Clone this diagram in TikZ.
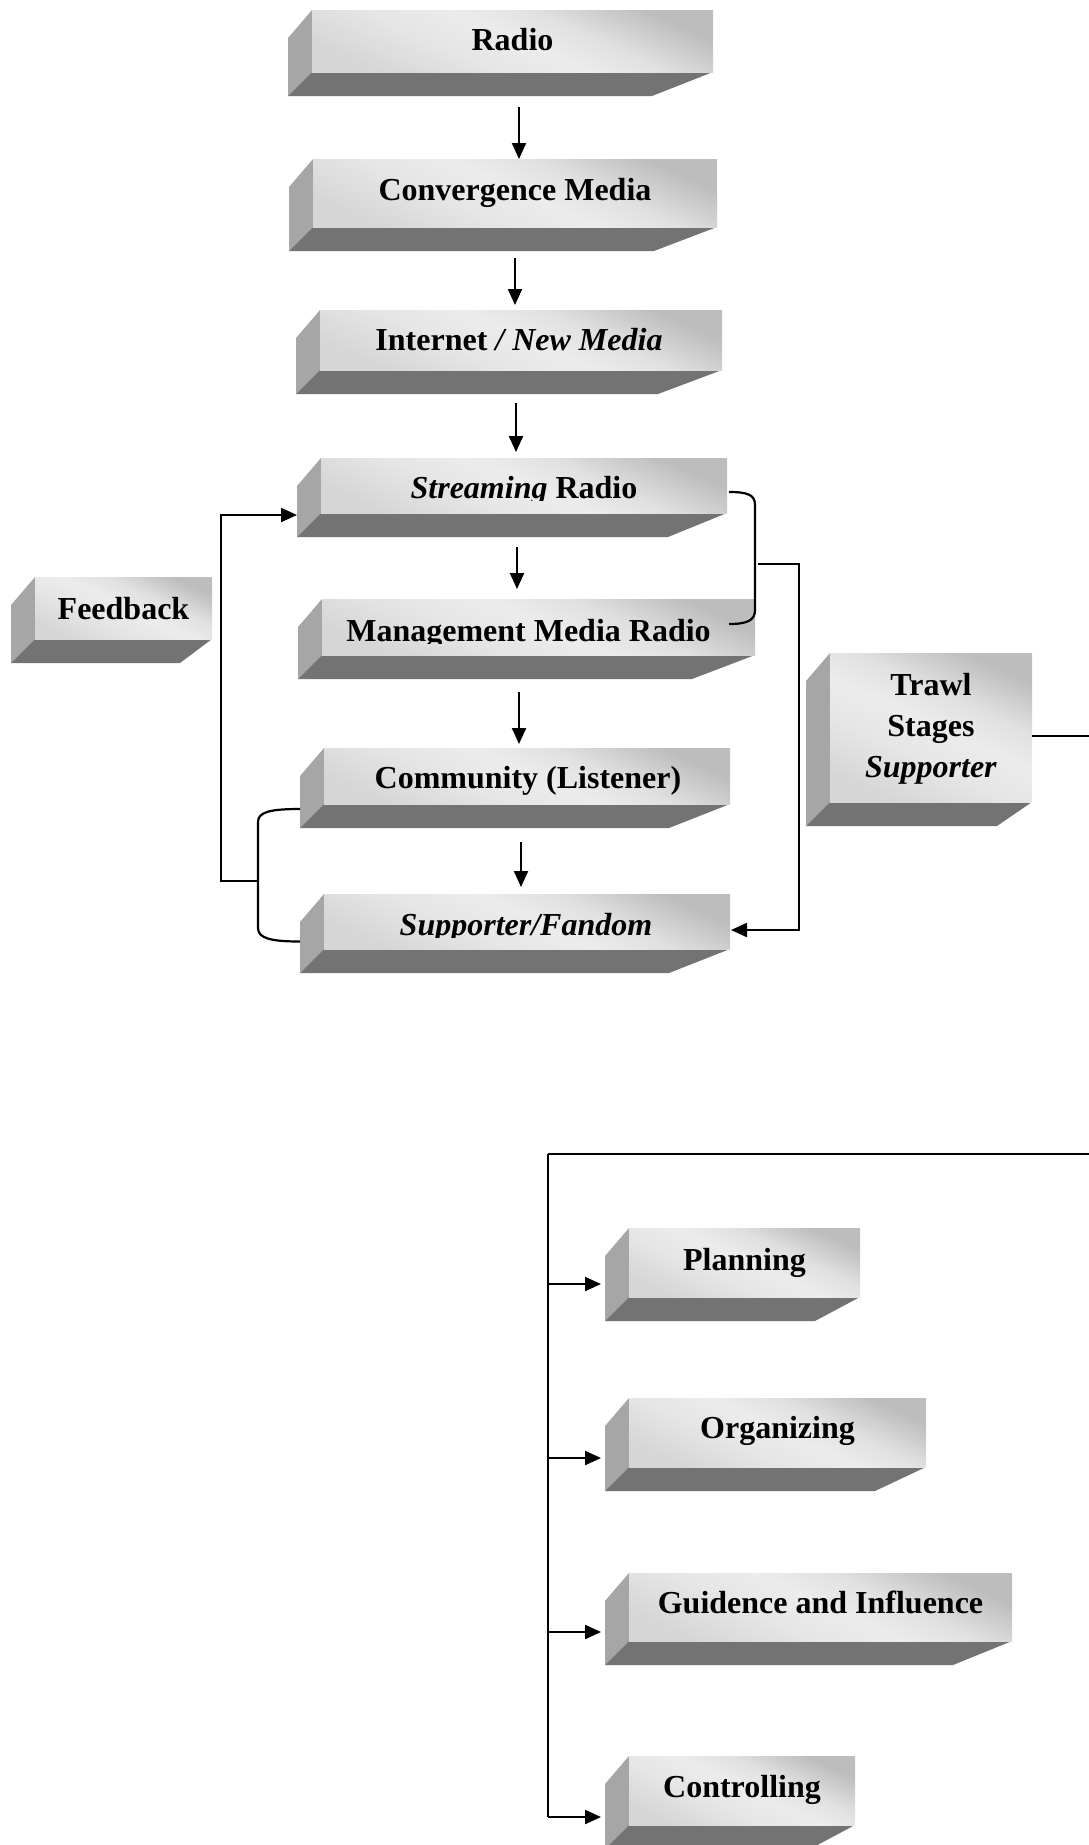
\documentclass[tikz,border=0pt]{standalone}
\usepackage{fontspec}
\setmainfont{Liberation Serif}
\usetikzlibrary{arrows.meta,calc}
\definecolor{sidec}{gray}{0.65}
\definecolor{botc}{gray}{0.45}
\definecolor{fA}{gray}{0.84}
\definecolor{fB}{gray}{0.90}
\definecolor{fC}{gray}{0.925}
\definecolor{fE}{gray}{0.88}
\definecolor{fD}{gray}{0.74}
\pgfdeclarehorizontalshading{facegrad}{100bp}{color(0bp)=(fA); color(25bp)=(fA); color(40bp)=(fB); color(51bp)=(fC); color(61bp)=(fE); color(75bp)=(fD); color(100bp)=(fD)}
\tikzset{
  face/.style={draw=none, inner sep=0pt, outer sep=0pt,
    shade, shading=facegrad, shading angle=65},
  lbl/.style={inner sep=0pt, font=\bfseries\fontsize{32}{37}\selectfont,
    text height=21.5pt, text depth=0pt},
  ln/.style={line width=2.2pt, black},
  arr/.style={ln, -{Triangle[length=16pt,width=14pt]}}
}
% #1 name, #2 front-left x, #3 top y, #4 front-right x, #5 face-bottom y, #6 right slope dx
\newcommand\bbox[6]{%
  \fill[sidec] (#2,#3) -- (#2,#5) -- ({#2-24},{#5+24}) -- ({#2-24},{#3+28}) -- cycle;
  \fill[botc] (#2,#5) -- (#4,#5) -- ({#4-#6},{#5+24}) -- ({#2-24},{#5+24}) -- cycle;
  \node[face, minimum width={#4-#2}, minimum height={#5-#3}] (#1) at ({(#2+#4)/2},{(#3+#5)/2}) {};
}
\begin{document}
\begin{tikzpicture}[x=1pt,y=-1pt]
\useasboundingbox (0,0) rectangle (1089,1845);

% boxes
\bbox{radio}{312}{10}{713}{72}{61}
\bbox{conv}{313}{159}{717}{227}{63}
\bbox{inet}{320}{310}{722}{370}{64}
\bbox{stream}{321}{458}{727}{513}{59}
\bbox{mgmt}{322}{599}{755}{655}{63}
\bbox{comm}{324}{748}{730}{804}{61}
\bbox{supp}{324}{894}{730}{949}{61}
\bbox{fb}{35}{577}{212}{639}{32}
\bbox{trawl}{830}{653}{1032}{802}{35}
\bbox{plan}{629}{1228}{860}{1297}{45}
\bbox{org}{629}{1398}{926}{1467}{51}
\bbox{guide}{629}{1573}{1012}{1641}{59}
\bbox{ctrl}{629}{1756}{855}{1825}{45}

% labels
\node[lbl] (radio-t) at ($(radio)+(0,-1)$) {Radio};
\node[lbl] (conv-t) at ($(conv)+(0,-3.5)$) {Convergence Media};
\node[lbl] (inet-t) at ($(inet)+(-2,0)$) {Internet \textit{/ New Media}};
\begin{scope}
  \clip ($(stream.north west)+(-5,0)$) rectangle ($(stream.east)+(5,15)$);
  \node[lbl] (stream-t) at ($(stream)+(0,2.5)$) {\textit{Streaming} Radio};
\end{scope}
\begin{scope}
  \clip ($(mgmt.north west)+(-5,0)$) rectangle ($(mgmt.east)+(5,16.5)$);
  \node[lbl] (mgmt-t) at ($(mgmt)+(-10,4)$) {Management Media Radio};
\end{scope}
\node[lbl] (comm-t) at ($(comm)+(1,2)$) {Community (Listener)};
\begin{scope}
  \clip ($(supp.north west)+(-5,0)$) rectangle ($(supp.east)+(5,15.5)$);
  \node[lbl] (supp-t) at ($(supp)+(-1,3)$) {\textit{Supporter/Fandom}};
\end{scope}
\node[lbl] (fb-t) at ($(fb)+(0,1)$) {Feedback};
\node[inner sep=0pt, align=center, font=\bfseries\fontsize{32}{41}\selectfont]
  (trawl-t) at ($(trawl)+(0,1)$) {Trawl\\Stages\\\textit{Supporter}};
\node[lbl] (plan-t) at ($(plan)+(0,-2.5)$) {Planning};
\node[lbl] (org-t) at ($(org)+(0,-4.5)$) {Organizing};
\node[lbl] (guide-t) at ($(guide)+(0,-4)$) {Guidence and Influence};
\node[lbl] (ctrl-t) at ($(ctrl)+(0,-3.5)$) {Controlling};

% main chain arrows
\draw[arr] ($(radio.south)+(6.5,35)$) -- ($(radio.south |- conv.north)+(6.5,0)$);
\draw[arr] ($(conv.south)+(0,31)$) -- ($(conv.south |- inet.north)+(0,-5)$);
\draw[arr] ($(inet.south)+(-5,33)$) -- ($(inet.south |- stream.north)+(-5,-6)$);
\draw[arr] ($(stream.south)+(-7,34)$) -- ($(stream.south |- mgmt.north)+(-7,-10)$);
\draw[arr] ($(mgmt.south)+(-19.5,37)$) -- ($(mgmt.south |- comm.north)+(-19.5,-4)$);
\draw[arr] ($(comm.south)+(-6,38)$) -- ($(comm.south |- supp.north)+(-6,-7)$);

% left bracket and feedback loop
\draw[ln] ($(comm.west)+(-24,33)$) .. controls (270,809) and (258,812) .. (258,822)
  -- (258,928) .. controls (258,938) and (270,941.5) .. ($(supp.west)+(-24,20)$);
\coordinate (fbj) at (258,881);
\draw[arr] (fbj) -- ++(-37,0) |- ($(stream.west)+(-24,29.5)$);

% right bracket and line to supporter
\draw[ln] ($(stream.east)+(2,6.5)$) .. controls (748,492) and (755,495) .. (755,505)
  -- (755,610) .. controls (755,620) and (748,624) .. ($(mgmt.east)+(-26,-3)$);
\coordinate (rbj) at (758,564);
\draw[arr] (rbj) -- ++(41,0) |- ($(supp.east)+(1,8.5)$);

% trawl line out to the right
\draw[ln] ($(trawl.east)+(0,8.5)$) -- ++(60,0);

% bus of the lower group
\coordinate (bus) at (548,1154);
\draw[ln] (bus) -- ++(545,0);
\draw[ln] (bus) -- ($(bus |- ctrl.west)+(0,26.5)$);
\draw[arr] ($(bus |- plan.west)+(0,21.5)$) -- ($(plan.west)+(-28,21.5)$);
\draw[arr] ($(bus |- org.west)+(0,25.5)$) -- ($(org.west)+(-28,25.5)$);
\draw[arr] ($(bus |- guide.west)+(0,25)$) -- ($(guide.west)+(-28,25)$);
\draw[arr] ($(bus |- ctrl.west)+(0,26.5)$) -- ($(ctrl.west)+(-28,26.5)$);
\end{tikzpicture}
\end{document}
